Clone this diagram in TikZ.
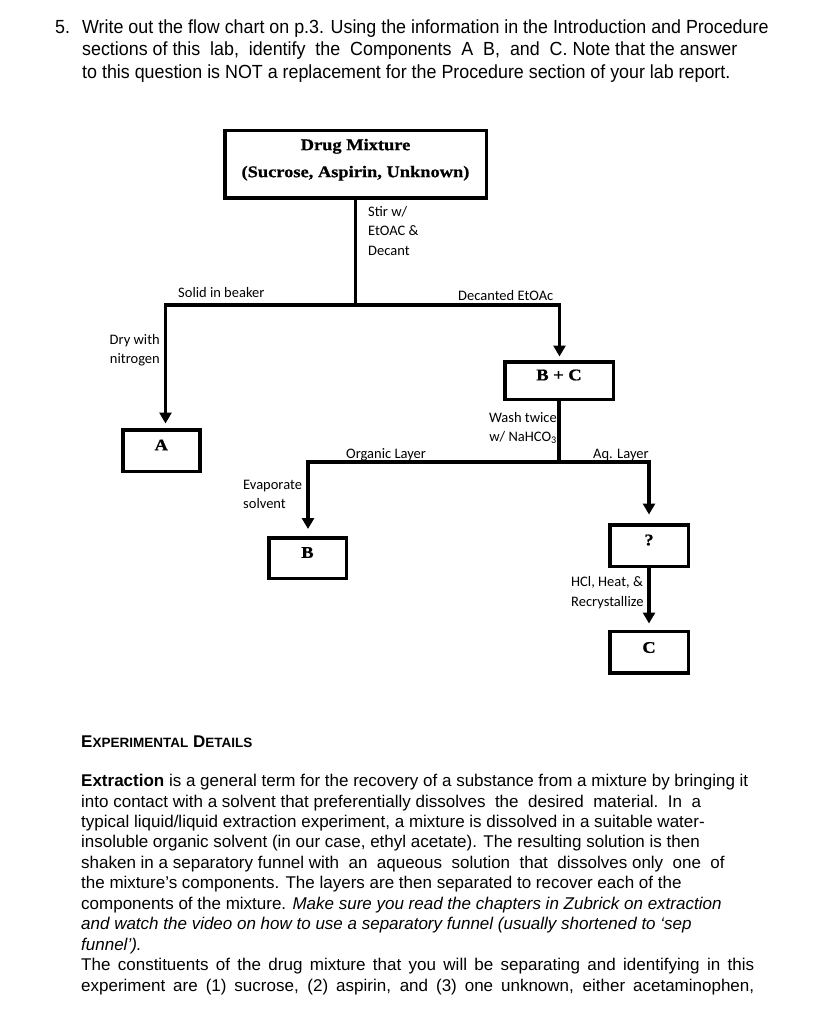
\documentclass[tikz,border=0pt]{standalone}
\usepackage{fontspec}
\setmainfont{Liberation Sans}
\newfontfamily\qfont[FakeStretch=0.94]{Liberation Sans}
\newfontfamily\labfont{Carlito}
\newfontfamily\boxfont[FakeStretch=1.13,FakeBold=0.8]{Liberation Serif}
\usetikzlibrary{arrows.meta}
\begin{document}
\begin{tikzpicture}[x=1pt,y=-1pt,
  box/.style={draw, line width=3.5pt, inner sep=0pt},
  boxlab/.style={font=\boxfont\bfseries\fontsize{16.3}{27}\selectfont, inner sep=0pt, align=center},
  flow/.style={line width=3.5pt},
  arr/.style={flow, -{Triangle[length=11pt,width=12pt]}, shorten >=#1},
  arr/.default=4pt,
  lab/.style={font=\labfont\fontsize{14.5}{19.5}\selectfont, inner sep=0pt},
  qtext/.style={font=\qfont\fontsize{19}{22.5}\selectfont, inner sep=0pt, anchor=base west},
  body/.style={font=\fontsize{17}{20.45}\selectfont, inner sep=0pt, anchor=base west}]
\fill[white] (0,0) rectangle (818,1024);
\useasboundingbox (0,0) rectangle (818,1024);

% question
\node[qtext] (q0) at (55,33.5) {5.};
\node[qtext] (q1) at (82,33.5) {Write out the flow chart on p.3. Using the information in the Introduction and Procedure};
\node[qtext] (q2) at (82,56) {sections of this\ \ lab,\ \ identify\ \ the\ \ Components\ \ A\ \ B,\ \ and\ \ C. Note that the answer};
\node[qtext] (q3) at (82,78.5) {to this question is NOT a replacement for the Procedure section of your lab report.};

% boxes
\node[box, minimum width=261.5pt, minimum height=67.5pt,
  label={[boxlab,yshift=4.75pt]center:{Drug Mixture\\(Sucrose, Aspirin, Unknown)}}] (top) at (355.5,164.5) {};
\node[box, minimum width=77pt, minimum height=41.5pt,
  label={[boxlab,yshift=5.5pt]center:A}] (A) at (161.25,450.5) {};
\node[box, minimum width=108.5pt, minimum height=37.5pt,
  label={[boxlab,yshift=5.5pt]center:B + C}] (BC) at (559,380.5) {};
\node[box, minimum width=77.5pt, minimum height=40.5pt,
  label={[boxlab,yshift=5.5pt]center:B}] (B) at (307.5,558) {};
\node[box, minimum width=78.5pt, minimum height=41.5pt,
  label={[boxlab,yshift=5.5pt]center:?}] (Q) at (649,545.5) {};
\node[box, minimum width=78.5pt, minimum height=41.5pt,
  label={[boxlab,yshift=4.5pt]center:C}] (C) at (649,652) {};

% junctions
\coordinate (j1) at (356,305);
\coordinate (jL) at (165.5,305);
\coordinate (jR) at (559.5,305);
\coordinate (j2) at (560,462);
\coordinate (jO) at (308,462);
\coordinate (jQ) at (649,462);

% connectors
\draw[flow] (top.south) -- (top.south |- j1);
\draw[arr=4.5pt] (j1) -- (jL) -- (jL |- A.north);
\draw[arr=3.5pt] (j1) -- (jR) -- (jR |- BC.north);
\draw[flow] (BC.south) -- (BC.south |- j2);
\draw[arr=7pt] (BC.south |- j2) -- (jO) -- (jO |- B.north);
\draw[arr=8.5pt] (BC.south |- j2) -- (jQ) -- (jQ |- Q.north);
\draw[arr=6pt] (Q.south) -- (C.north);

% connector labels
\node[lab, anchor=north west, align=left] (stir) at (368,204) {\rule{0pt}{12pt}Stir w/\\EtOAC \&\\Decant};
\node[lab, anchor=base west] (solid) at (178,297.5) {Solid in beaker};
\node[lab, anchor=base west] (dec) at (458,300) {Decanted EtOAc};
\node[lab, anchor=north east, align=right] (dry) at (160,332) {\rule{0pt}{12pt}Dry with\\nitrogen};
\node[lab, anchor=north east, align=right] (wash) at (557,410) {\rule{0pt}{12pt}Wash twice\\w/ NaHCO\textsubscript{3}};
\node[lab, anchor=base west] (org) at (346,458) {Organic Layer};
\node[lab, anchor=base west] (aq) at (593,458) {Aq. Layer};
\node[lab, anchor=north west, align=left] (evap) at (243,477) {\rule{0pt}{12pt}Evaporate\\solvent};
\node[lab, anchor=north west, align=left] (hcl) at (571,574.5) {\rule{0pt}{12pt}HCl, Heat, \&\\Recrystallize};

% body text
\node[body] (h) at (81,747) {\bfseries E{\fontsize{13.5}{16}\selectfont XPERIMENTAL} D{\fontsize{13.5}{16}\selectfont ETAILS}};
\node[body] (l1) at (81,786.5) {\textbf{Extraction} is a general term for the recovery of a substance from a mixture by bringing it};
\node[body] (l2) at (81,807) {into contact with a solvent that preferentially dissolves\ \ the\ \ desired\ \ material.\ \ In\ \ a};
\node[body] (l3) at (81,827.4) {typical liquid/liquid extraction experiment, a mixture is dissolved in a suitable water-};
\node[body] (l4) at (81,847.9) {insoluble organic solvent (in our case, ethyl acetate). The resulting solution is then};
\node[body] (l5) at (81,868.3) {shaken in a separatory funnel with\ \ an\ \ aqueous\ \ solution\ \ that\ \ dissolves only\ \ one\ \ of};
\node[body] (l6) at (81,888.8) {the mixture’s components. The layers are then separated to recover each of the};
\node[body] (l7) at (81,909.2) {components of the mixture. \textit{Make sure you read the chapters in Zubrick on extraction}};
\node[body] (l8) at (81,929.7) {\textit{and watch the video on how to use a separatory funnel (usually shortened to ‘sep}};
\node[body] (l9) at (81,950.1) {\textit{funnel’).}};
\node[body] (l10) at (81,970.6) {\makebox[673pt][s]{The constituents of the drug mixture that you will be separating and identifying in this}};
\node[body] (l11) at (81,991) {\makebox[673pt][s]{experiment are (1) sucrose, (2) aspirin, and (3) one unknown, either acetaminophen,}};
\end{tikzpicture}
\end{document}
